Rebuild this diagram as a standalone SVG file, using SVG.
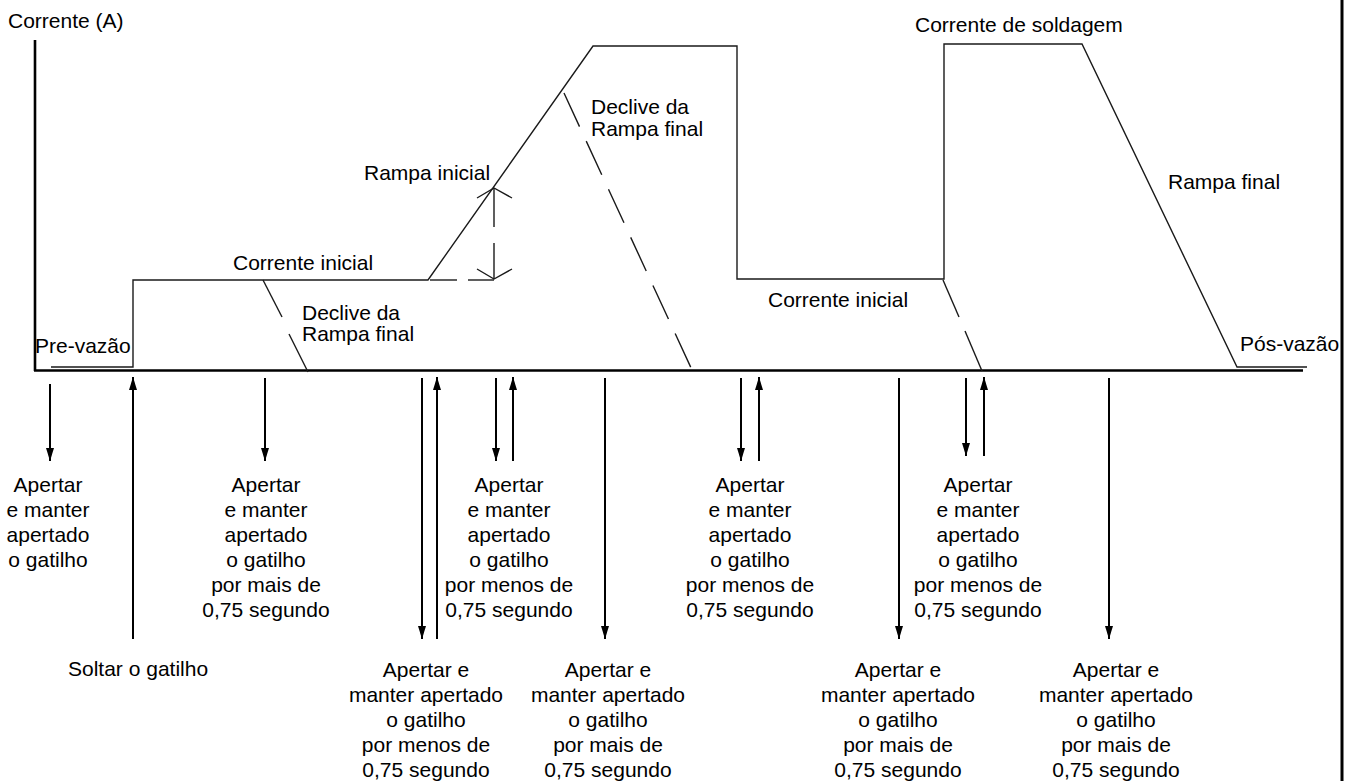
<svg xmlns="http://www.w3.org/2000/svg" width="1351" height="781" viewBox="0 0 1351 781">
  <style>
    text { font-family: "Liberation Sans", Arial, sans-serif; font-size: 21px; fill: #000; }
    .mid { text-anchor: middle; }
    .curve { fill: none; stroke: #1a1a1a; stroke-width: 1.4; stroke-linejoin: miter; }
    .axis { fill: none; stroke: #000; stroke-width: 2.6; }
    .dash { fill: none; stroke: #1a1a1a; stroke-width: 1.4; }
    .arrow { fill: none; stroke: #000; stroke-width: 2; marker-end: url(#head); }
  </style>
  <defs>
    <marker id="head" markerUnits="userSpaceOnUse" markerWidth="14" markerHeight="9" refX="13" refY="4.5" orient="auto">
      <path d="M0,0.5 L13,4.5 L0,8.5 z" fill="#000"/>
    </marker>
  </defs>

  <rect width="1351" height="781" fill="#fff"/>

  <!-- axes and frame -->
  <g id="axes">
    <line class="axis" x1="35" y1="40" x2="35" y2="371"/>
    <line class="axis" x1="34" y1="370.5" x2="1303" y2="370.5"/>
    <line x1="1342" y1="0" x2="1342" y2="781" stroke="#000" stroke-width="3"/>
    <text x="8" y="28">Corrente (A)</text>
  </g>

  <!-- current profile -->
  <g id="profile">
    <path class="curve" d="M51,367 H133 V280 H428 L593,46 H737 V279 H944 V44 H1082 L1237,367 H1307"/>
  </g>

  <!-- dashed alternatives and dimension marks -->
  <g id="dashed">
    <line class="dash" x1="263" y1="280" x2="282" y2="317"/>
    <line class="dash" x1="289" y1="334" x2="308" y2="372"/>
    <line class="dash" x1="564" y1="93" x2="692" y2="370" stroke-dasharray="37 16"/>
    <line class="dash" x1="943" y1="280" x2="959" y2="317"/>
    <line class="dash" x1="965" y1="331" x2="982" y2="371"/>
    <line class="dash" x1="430" y1="280" x2="457" y2="280"/>
    <line class="dash" x1="468" y1="280" x2="494" y2="280"/>
    <line class="dash" x1="494" y1="188" x2="494" y2="227"/>
    <line class="dash" x1="494" y1="243" x2="494" y2="279"/>
    <polyline class="dash" points="477,198 494,188 512,198"/>
    <polyline class="dash" points="477,269 494,279 512,269"/>
  </g>

  <!-- graph labels -->
  <g id="labels">
    <text x="35" y="353">Pre-vazão</text>
    <text x="233" y="270">Corrente inicial</text>
    <text x="302" y="320">Declive da</text>
    <text x="302" y="341">Rampa final</text>
    <text x="364" y="180">Rampa inicial</text>
    <text x="591" y="114">Declive da</text>
    <text x="591" y="136">Rampa final</text>
    <text x="768" y="307">Corrente inicial</text>
    <text x="915" y="32">Corrente de soldagem</text>
    <text x="1168" y="189">Rampa final</text>
    <text x="1240" y="351">Pós-vazão</text>
  </g>

  <!-- trigger action arrows -->
  <g id="connectors">
    <line class="arrow" x1="50" y1="384" x2="50" y2="461"/>
    <line class="arrow" x1="133" y1="639" x2="133" y2="377"/>
    <line class="arrow" x1="265" y1="378" x2="265" y2="461"/>
    <line class="arrow" x1="422" y1="378" x2="422" y2="639"/>
    <line class="arrow" x1="437" y1="639" x2="437" y2="377"/>
    <line class="arrow" x1="496" y1="378" x2="496" y2="461"/>
    <line class="arrow" x1="513" y1="461" x2="513" y2="377"/>
    <line class="arrow" x1="605" y1="378" x2="605" y2="639"/>
    <line class="arrow" x1="741" y1="378" x2="741" y2="461"/>
    <line class="arrow" x1="759" y1="461" x2="759" y2="377"/>
    <line class="arrow" x1="899" y1="378" x2="899" y2="639"/>
    <line class="arrow" x1="966" y1="378" x2="966" y2="456"/>
    <line class="arrow" x1="984" y1="456" x2="984" y2="377"/>
    <line class="arrow" x1="1109" y1="378" x2="1109" y2="639"/>
  </g>

  <!-- trigger action captions -->
  <g id="note-press-hold" class="mid">
    <text x="48" y="492">Apertar</text>
    <text x="48" y="517">e manter</text>
    <text x="48" y="542">apertado</text>
    <text x="48" y="567">o gatilho</text>
  </g>
  <g id="note-release">
    <text x="68" y="676">Soltar o gatilho</text>
  </g>
  <g id="note-hold-more-1" class="mid">
    <text x="266" y="492">Apertar</text>
    <text x="266" y="517">e manter</text>
    <text x="266" y="542">apertado</text>
    <text x="266" y="567">o gatilho</text>
    <text x="266" y="592">por mais de</text>
    <text x="266" y="617">0,75 segundo</text>
  </g>
  <g id="note-hold-less-1" class="mid">
    <text x="509" y="492">Apertar</text>
    <text x="509" y="517">e manter</text>
    <text x="509" y="542">apertado</text>
    <text x="509" y="567">o gatilho</text>
    <text x="509" y="592">por menos de</text>
    <text x="509" y="617">0,75 segundo</text>
  </g>
  <g id="note-hold-less-2" class="mid">
    <text x="750" y="492">Apertar</text>
    <text x="750" y="517">e manter</text>
    <text x="750" y="542">apertado</text>
    <text x="750" y="567">o gatilho</text>
    <text x="750" y="592">por menos de</text>
    <text x="750" y="617">0,75 segundo</text>
  </g>
  <g id="note-hold-less-3" class="mid">
    <text x="978" y="492">Apertar</text>
    <text x="978" y="517">e manter</text>
    <text x="978" y="542">apertado</text>
    <text x="978" y="567">o gatilho</text>
    <text x="978" y="592">por menos de</text>
    <text x="978" y="617">0,75 segundo</text>
  </g>
  <g id="note-hold-less-4" class="mid">
    <text x="426" y="677">Apertar e</text>
    <text x="426" y="702">manter apertado</text>
    <text x="426" y="727">o gatilho</text>
    <text x="426" y="752">por menos de</text>
    <text x="426" y="777">0,75 segundo</text>
  </g>
  <g id="note-hold-more-2" class="mid">
    <text x="608" y="677">Apertar e</text>
    <text x="608" y="702">manter apertado</text>
    <text x="608" y="727">o gatilho</text>
    <text x="608" y="752">por mais de</text>
    <text x="608" y="777">0,75 segundo</text>
  </g>
  <g id="note-hold-more-3" class="mid">
    <text x="898" y="677">Apertar e</text>
    <text x="898" y="702">manter apertado</text>
    <text x="898" y="727">o gatilho</text>
    <text x="898" y="752">por mais de</text>
    <text x="898" y="777">0,75 segundo</text>
  </g>
  <g id="note-hold-more-4" class="mid">
    <text x="1116" y="677">Apertar e</text>
    <text x="1116" y="702">manter apertado</text>
    <text x="1116" y="727">o gatilho</text>
    <text x="1116" y="752">por mais de</text>
    <text x="1116" y="777">0,75 segundo</text>
  </g>
</svg>
